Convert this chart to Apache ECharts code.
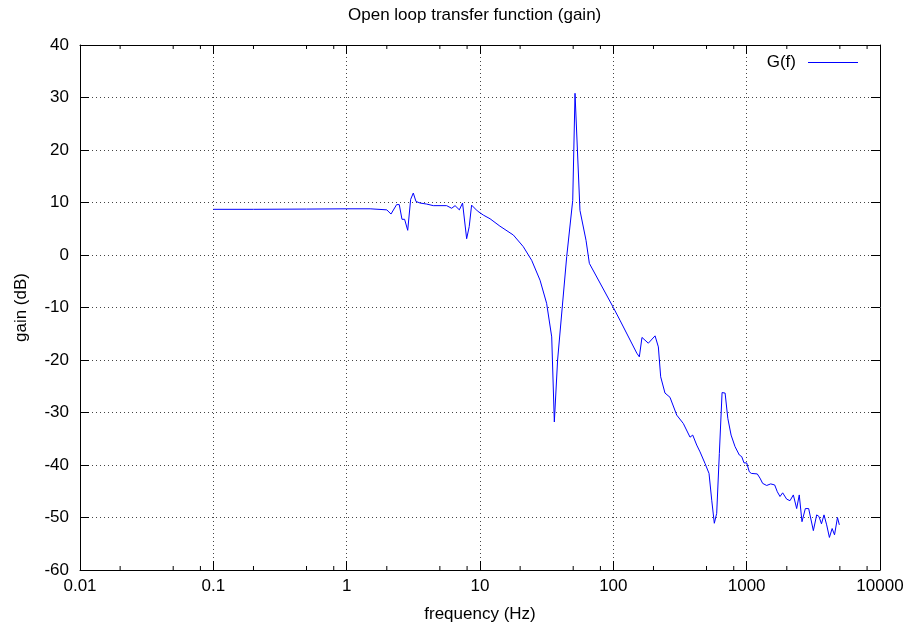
<!DOCTYPE html>
<html>
<head>
<meta charset="utf-8">
<script src="https://cdn.jsdelivr.net/npm/echarts@6/dist/echarts.min.js"></script>
<style>html,body{margin:0;padding:0;background:#fff}#c{width:909px;height:628px}</style>
</head>
<body>
<div id="c"></div>
<script>
const freqHz = [0.1,0.2,0.5,1,1.5,2.0,2.15,2.37,2.48,2.6,2.72,2.87,3.02,3.16,3.31,3.55,3.98,4.47,5.62,6.13,6.5,7.0,7.4,7.94,8.3,8.65,9.55,10.6,11.9,14.1,17.8,21.1,24.4,28.2,31.6,34.5,36.1,38.2,44.7,49.6,51.6,53.1,56.2,62.4,66.1,100,112,150,156.7,164,183,205.6,217.6,226.5,244,266,299,335,376,394,422,447,487,522,547,572,596,624,654,689,722,764,818,881,918,955,1000,1047,1084,1201,1259,1318,1413,1514,1622,1698,1778,1862,1995,2113,2239,2371,2480,2600,2754,2917,3163,3350,3484,3640,3802,3981,4174,4376,4560,4800,4955];
const gainDb = [8.7,8.7,8.75,8.8,8.8,8.6,7.8,9.6,9.6,6.8,6.8,4.7,10.6,11.8,10.2,9.9,9.7,9.4,9.4,8.9,9.4,8.6,9.9,3.1,5.4,9.5,8.4,7.6,6.9,5.5,3.8,1.6,-1.0,-4.8,-9.2,-15.6,-31.8,-20,-0.3,10.4,30.8,30.6,8.5,2.8,-1.6,-10,-12.4,-18.7,-19.4,-15.7,-16.8,-15.4,-17.5,-23.2,-26.3,-27.1,-30.5,-32.1,-34.7,-34.3,-36.2,-37.5,-39.7,-41.6,-46.7,-51.1,-49.2,-37.8,-26.2,-26.3,-31.1,-34.3,-36.5,-38.1,-38.4,-39.6,-39.6,-41.3,-41.6,-41.7,-42.5,-43.5,-43.9,-43.6,-43.8,-45.1,-46.0,-45.3,-46.5,-46.8,-45.7,-48.3,-45.7,-50.8,-48.3,-48.3,-52.5,-49.5,-49.8,-51.2,-49.5,-51.4,-53.8,-52.1,-53.3,-50.0,-51.4];
const xTickLabels = ['0.01','0.1','1','10','100','1000','10000'];
const minorTickFreqs = [];
[0.01,0.1,1,10,100,1000].forEach(d => [2,5,8].forEach(m => minorTickFreqs.push(+(d*m).toPrecision(3))));
const seriesName = 'G(f)';

const FONT = 'Liberation Sans, Arial, sans-serif';
const FS = 17;
const BLUE = '#0000ff';
const chart = echarts.init(document.getElementById('c'), null, {renderer:'canvas'});
const gridStyle = {show:true, lineStyle:{color:'#444', type:[1,3], width:1}};
const lineData = freqHz.map((f,i)=>[f, gainDb[i]]);

chart.setOption({
  animation:false,
  backgroundColor:'#fff',
  title:{text:'Open loop transfer function (gain)', left:348, top:7, padding:0,
    textStyle:{fontFamily:FONT, fontSize:FS, fontWeight:'normal', color:'#000'}},
  legend:{data:[{name:seriesName, icon:'rect', itemStyle:{color:BLUE, borderWidth:0}}],
    right:51, top:54, padding:0, align:'right',
    itemWidth:50, itemHeight:1,
    textStyle:{fontFamily:FONT, fontSize:FS, color:'#000', padding:[0,7,0,0]}},
  grid:{left:80, right:29, top:45, bottom:58},
  xAxis:[{
    type:'log', logBase:10, min:0.01, max:10000,
    name:'frequency (Hz)', nameLocation:'middle', nameGap:36,
    nameTextStyle:{fontFamily:FONT, fontSize:FS, color:'#000'},
    axisLine:{show:true, onZero:false, lineStyle:{color:'#000', width:1}},
    axisTick:{show:true, inside:true, length:9, lineStyle:{color:'#000'}},
    axisLabel:{fontFamily:FONT, fontSize:FS, color:'#000', margin:8,
      formatter:(v)=>{const i=Math.round(Math.log10(v))+2; return xTickLabels[i]!==undefined?xTickLabels[i]:'';}},
    splitLine:gridStyle
  },{
    type:'log', logBase:10, min:0.01, max:10000, position:'top',
    axisLine:{show:true, onZero:false, lineStyle:{color:'#000', width:1}},
    axisTick:{show:true, inside:true, length:9, lineStyle:{color:'#000'}},
    axisLabel:{show:false}, splitLine:{show:false}
  }],
  yAxis:[{
    type:'value', min:-60, max:40, interval:10,
    name:'gain (dB)', nameLocation:'middle', nameGap:50,
    nameTextStyle:{fontFamily:FONT, fontSize:FS, color:'#000'},
    axisLine:{show:true, onZero:false, lineStyle:{color:'#000', width:1}},
    axisTick:{show:true, inside:true, length:9, lineStyle:{color:'#000'}},
    axisLabel:{fontFamily:FONT, fontSize:FS, color:'#000', margin:11},
    splitLine:gridStyle
  },{
    type:'value', min:-60, max:40, interval:10, position:'right',
    axisLine:{show:true, onZero:false, lineStyle:{color:'#000', width:1}},
    axisTick:{show:true, inside:true, length:9, lineStyle:{color:'#000'}},
    axisLabel:{show:false}, splitLine:{show:false}
  }],
  series:[{
    name:seriesName, type:'line', data:lineData, showSymbol:false, symbol:'none',
    lineStyle:{color:BLUE, width:1}, itemStyle:{color:BLUE}, z:5
  },{
    type:'custom', silent:true, xAxisIndex:0, yAxisIndex:0,
    data:minorTickFreqs.map(f=>[f]),
    renderItem:(params, api)=>{
      const f = api.value(0);
      const b = api.coord([f, -60]);
      const t = api.coord([f, 40]);
      return {type:'group', children:[
        {type:'line', shape:{x1:b[0], y1:b[1], x2:b[0], y2:b[1]-4}, style:{stroke:'#000', lineWidth:1}},
        {type:'line', shape:{x1:t[0], y1:t[1], x2:t[0], y2:t[1]+4}, style:{stroke:'#000', lineWidth:1}}
      ]};
    }
  }]
});
</script>
</body>
</html>
